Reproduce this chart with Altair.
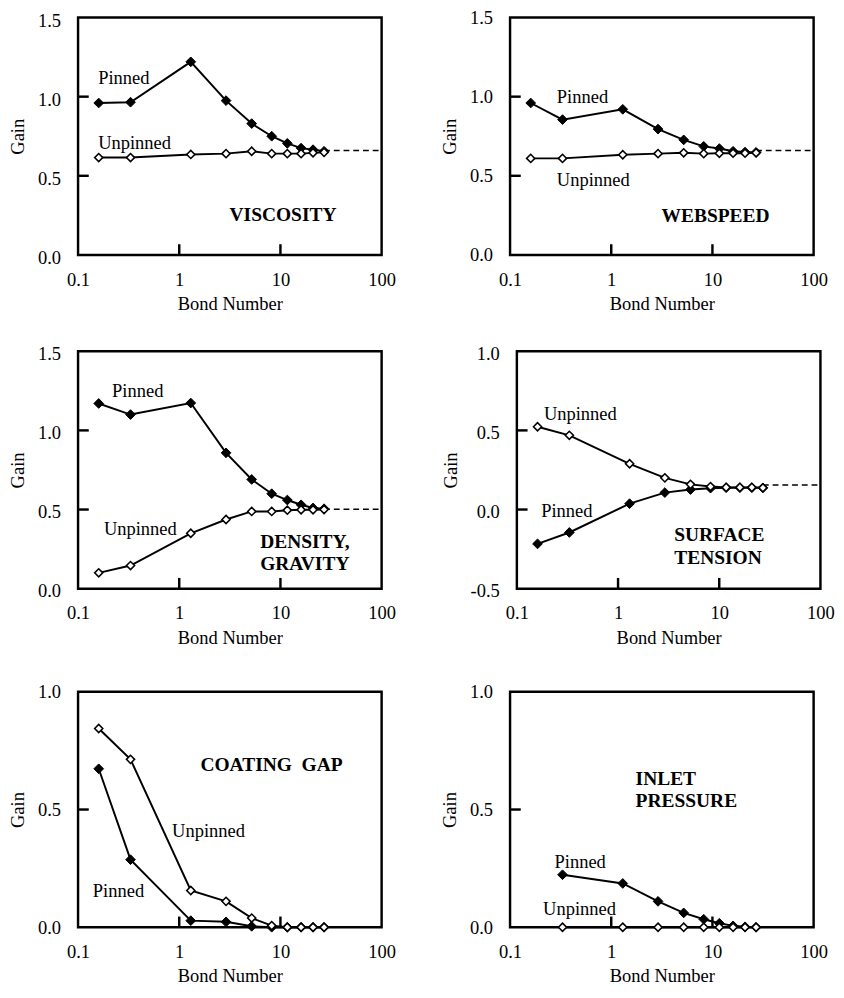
import altair as alt
import pandas as pd

FONT = "Liberation Serif"

# Bond numbers (x) shared by the panels
BOND = [0.16, 0.33, 1.3, 2.9, 5.2, 8.2, 11.7, 16, 21, 27]
BOND_INLET = [0.33, 1.3, 2.9, 5.2, 8.2, 11.7, 16, 21, 27]

X_TICKS = [0.1, 1, 10, 100]
X_INNER_TICKS = [1, 10]

# Viscosity
VISC_PINNED = [0.96, 0.965, 1.22, 0.975, 0.83, 0.75, 0.705, 0.675, 0.665, 0.655]
VISC_UNPINNED = [0.615, 0.615, 0.635, 0.64, 0.655, 0.64, 0.64, 0.64, 0.645, 0.648]
VISC_LIMIT = 0.66

# Webspeed
WEB_PINNED = [0.96, 0.855, 0.92, 0.795, 0.727, 0.686, 0.672, 0.655, 0.65, 0.648]
WEB_UNPINNED = [0.61, 0.61, 0.633, 0.64, 0.645, 0.64, 0.642, 0.643, 0.643, 0.645]
WEB_LIMIT = 0.66

# Density, gravity
DENS_PINNED = [1.17, 1.10, 1.173, 0.858, 0.69, 0.60, 0.56, 0.53, 0.51, 0.505]
DENS_UNPINNED = [0.10, 0.146, 0.35, 0.437, 0.488, 0.488, 0.496, 0.498, 0.498, 0.50]
DENS_LIMIT = 0.502

# Surface tension
SURF_PINNED = [-0.217, -0.145, 0.037, 0.107, 0.126, 0.135, 0.138, 0.138, 0.138, 0.137]
SURF_UNPINNED = [0.523, 0.469, 0.289, 0.2, 0.159, 0.145, 0.14, 0.14, 0.14, 0.137]
SURF_LIMIT = 0.155

# Coating gap
GAP_PINNED = [0.673, 0.287, 0.028, 0.023, 0.004, 0.0, 0.0, 0.0, 0.0, 0.0]
GAP_UNPINNED = [0.844, 0.713, 0.156, 0.11, 0.039, 0.007, 0.0, 0.0, 0.0, 0.0]

# Inlet pressure
INLET_PINNED = [0.223, 0.186, 0.110, 0.061, 0.034, 0.017, 0.006, 0.002, 0.0]
INLET_UNPINNED = [0.0, 0.0, 0.0, 0.0, 0.0, 0.0, 0.0, 0.0, 0.0]

W = 312
H = 244


def panel(bond, pinned, unpinned, ydom, ylabels, yinner, notes, title_note, limit=None, h=H,
          yoff=0):
    xs = alt.X("bond:Q",
               scale=alt.Scale(type="log", domain=[0.1, 100], nice=False),
               axis=alt.Axis(values=X_TICKS, format="~g", title="Bond Number"))
    ys = alt.Y("gain:Q",
               scale=alt.Scale(domain=ydom, nice=False, zero=False),
               axis=alt.Axis(values=ylabels, title="Gain", labelOffset=yoff,
                             labelExpr="datum.value < 0 ? '-' + format(-datum.value, '.1f') : format(datum.value, '.1f')"))
    dp = pd.DataFrame({"bond": bond, "gain": pinned})
    du = pd.DataFrame({"bond": bond, "gain": unpinned})
    layers = []
    layers.append(alt.Chart(dp).mark_line(color="black", strokeWidth=2).encode(x=xs, y=ys))
    layers.append(alt.Chart(du).mark_line(color="black", strokeWidth=2).encode(x="bond:Q", y="gain:Q"))
    if limit is not None:
        dl = pd.DataFrame({"bond": [bond[-1]], "bond2": [100], "gain": [limit]})
        layers.append(alt.Chart(dl).mark_rule(color="black", strokeWidth=1.5, strokeDash=[6, 4]).encode(
            x="bond:Q", x2="bond2:Q", y="gain:Q"))
    layers.append(alt.Chart(dp).mark_point(shape="diamond", filled=True, fill="black", stroke="black",
                                           strokeWidth=1, size=100, opacity=1).encode(x="bond:Q", y="gain:Q"))
    layers.append(alt.Chart(du).mark_point(shape="diamond", filled=True, fill="white", stroke="black",
                                           strokeWidth=1.6, size=70, opacity=1).encode(x="bond:Q", y="gain:Q"))
    # inner tick marks
    dyt = pd.DataFrame({"gain": yinner})
    layers.append(alt.Chart(dyt).mark_rule(color="black", strokeWidth=2.5).encode(
        y="gain:Q", x=alt.value(0), x2=alt.value(11)))
    dxt = pd.DataFrame({"bond": X_INNER_TICKS})
    layers.append(alt.Chart(dxt).mark_rule(color="black", strokeWidth=2.5).encode(
        x="bond:Q", y=alt.value(h), y2=alt.value(h - 11)))
    # series labels
    dn = pd.DataFrame(notes, columns=["bond", "gain", "label"])
    layers.append(alt.Chart(dn).mark_text(align="left", baseline="middle", font=FONT, fontSize=19,
                                          color="black").encode(x="bond:Q", y="gain:Q", text="label:N"))
    dt = pd.DataFrame([title_note], columns=["bond", "gain", "label"])
    layers.append(alt.Chart(dt).mark_text(align="left", baseline="middle", font=FONT, fontSize=20,
                                          fontWeight="bold", lineBreak="\n",
                                          lineHeight=23, color="black").encode(
        x="bond:Q", y="gain:Q", text="label:N"))
    return alt.layer(*layers).properties(width=W, height=h)


p1 = panel(BOND, VISC_PINNED, VISC_UNPINNED, [0, 1.5], [0, 0.5, 1.0, 1.5], [0.5, 1.0],
           [(0.158, 1.12, "Pinned"), (0.158, 0.705, "Unpinned")],
           (3.14, 0.25, "VISCOSITY"), VISC_LIMIT, yoff=3)
p2 = panel(BOND, WEB_PINNED, WEB_UNPINNED, [0, 1.5], [0, 0.5, 1.0, 1.5], [0.5, 1.0],
           [(0.29, 1.0, "Pinned"), (0.29, 0.474, "Unpinned")],
           (3.14, 0.243, "WEBSPEED"), WEB_LIMIT, yoff=0)
p3 = panel(BOND, DENS_PINNED, DENS_UNPINNED, [0, 1.5], [0, 0.5, 1.0, 1.5], [0.5, 1.0],
           [(0.217, 1.25, "Pinned"), (0.18, 0.376, "Unpinned")],
           (6.3, 0.295, "DENSITY,\nGRAVITY"), DENS_LIMIT, yoff=2)
p4 = panel(BOND, SURF_PINNED, SURF_UNPINNED, [-0.5, 1.0], [-0.5, 0.0, 0.5, 1.0], [0.0, 0.5],
           [(0.174, -0.01, "Pinned"), (0.185, 0.60, "Unpinned")],
           (3.59, -0.165, "SURFACE\nTENSION"), SURF_LIMIT, yoff=2)
p5 = panel(BOND, GAP_PINNED, GAP_UNPINNED, [0, 1.0], [0, 0.5, 1.0], [0.5],
           [(0.14, 0.152, "Pinned"), (0.85, 0.41, "Unpinned")],
           (1.62, 0.69, "COATING\u00a0\u00a0GAP"), h=242)
p6 = panel(BOND_INLET, INLET_PINNED, INLET_UNPINNED, [0, 1.0], [0, 0.5, 1.0], [0.5],
           [(0.275, 0.275, "Pinned"), (0.212, 0.076, "Unpinned")],
           (1.74, 0.631, "INLET\nPRESSURE"), h=242)

chart = alt.vconcat(
    alt.vconcat(
        alt.hconcat(p1, p2, spacing=44),
        alt.hconcat(p3, p4, spacing=44),
        spacing=28,
    ),
    alt.hconcat(p5, p6, spacing=44),
    spacing=33,
).properties(
    padding={"left": 0, "top": -15, "right": 0, "bottom": 0}
).configure_view(
    stroke="black", strokeWidth=2.5
).configure_axis(
    domain=False, ticks=False, grid=False,
    labelFont=FONT, labelFontSize=19, labelColor="black",
    titleFont=FONT, titleFontSize=19, titleFontWeight="normal", titleColor="black",
    labelFlush=False, labelOverlap=False,
).configure_axisX(titlePadding=6, labelPadding=16).configure_axisY(titlePadding=10, labelPadding=18)

chart.save("out.html", embed_options={"renderer": "svg", "actions": False})
